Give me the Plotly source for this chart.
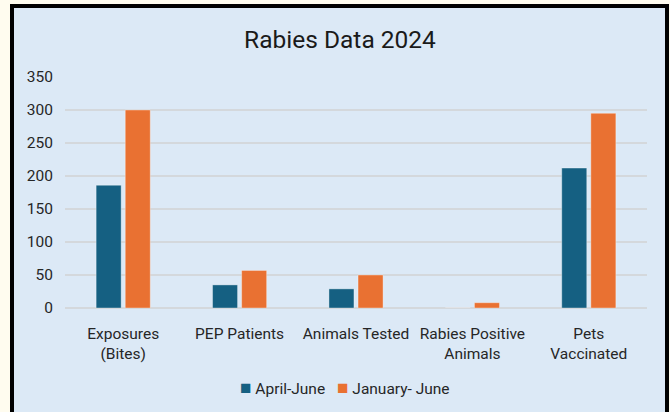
import plotly.graph_objects as go

categories = ["Exposures<br>(Bites)", "PEP Patients", "Animals Tested",
              "Rabies Positive<br>Animals", "Pets<br>Vaccinated"]
april_june = [186, 35, 29, 0, 212]
january_june = [300, 57, 50, 8, 295]
y_ticks = [0, 50, 100, 150, 200, 250, 300, 350]
series_names = ["April-June", "January- June"]

BLUE = "#156082"
ORANGE = "#E97132"
PANEL = "#DCE9F6"
CREAM = "#FFFCEF"
FONT = "Roboto"

W, H = 670, 412
L, R, T, B = 65, 23, 77, 104
pw = W - L - R
ph = H - T - B

def px_to_paper_x(px):
    return (px - L) / pw

def px_to_paper_y(py):
    return (H - B - py) / ph

fig = go.Figure()
fig.add_trace(go.Bar(name=series_names[0], x=categories, y=april_june,
                     marker=dict(color=BLUE, line=dict(color="rgba(255,255,255,0.35)", width=1))))
fig.add_trace(go.Bar(name=series_names[1], x=categories, y=january_june,
                     marker=dict(color=ORANGE, line=dict(color="rgba(255,255,255,0.35)", width=1))))

fig.add_shape(type="rect", xref="paper", yref="paper", layer="below",
              x0=px_to_paper_x(12), x1=px_to_paper_x(667),
              y0=px_to_paper_y(440), y1=px_to_paper_y(6),
              line=dict(color="black", width=4), fillcolor=PANEL)

# legend drawn as text annotations (colored square + label)
legend_items = [(series_names[0], BLUE, 282), (series_names[1], ORANGE, 393)]
for name, color, cx in legend_items:
    fig.add_annotation(
        xref="paper", yref="paper",
        x=px_to_paper_x(cx), y=px_to_paper_y(387),
        xanchor="center", yanchor="middle", showarrow=False,
        text=f"<span style='color:{color};font-size:19px'>■</span> {name}",
        font=dict(size=15.5, color="#262626", family=FONT),
    )

fig.update_layout(
    width=W, height=H,
    margin=dict(l=L, r=R, t=T, b=B),
    paper_bgcolor=CREAM,
    plot_bgcolor="rgba(0,0,0,0)",
    barmode="group", bargap=0.5, bargroupgap=0.14,
    font=dict(family=FONT, color="#262626"),
    title=dict(text="Rabies Data 2024", font=dict(size=24.5, color="#1a1a1a", family=FONT),
               x=340 / W, xref="container", xanchor="center",
               y=1 - 39 / H, yref="container", yanchor="middle"),
    showlegend=False,
)
fig.update_yaxes(range=[0, 350], tickvals=y_ticks, showgrid=True,
                 gridcolor="#D4D8DC", gridwidth=1.5, zeroline=True,
                 zerolinecolor="#D4D8DC", zerolinewidth=1.5,
                 tickfont=dict(size=15.5, color="#262626"), ticklabelstandoff=11,
                 showline=False, fixedrange=True)
fig.update_xaxes(tickfont=dict(size=15.5, color="#262626"), ticklabelstandoff=14,
                 showline=False, ticks="", fixedrange=True)

fig.write_html("out.html", config={"displayModeBar": False},
               post_script="document.body.style.margin='0';document.body.style.background='%s';" % CREAM)
